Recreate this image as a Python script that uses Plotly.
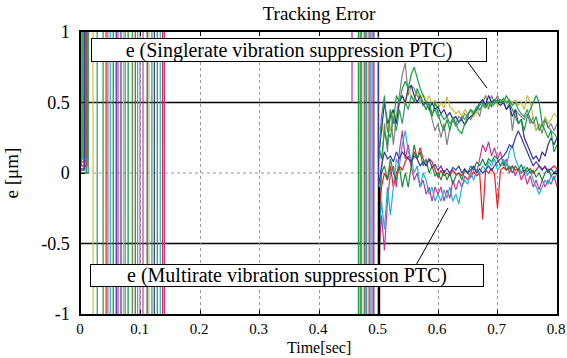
import numpy as np
import plotly.graph_objects as go

# ---------------- data ----------------
series_names = ["gray", "yellow", "navy", "green", "teal", "red", "magenta", "cyan", "dkgreen", "blue"]
series_colors = ["#808080", "#c8c040", "#2e2e9a", "#14a040", "#2f9a60",
                 "#ee1c24", "#cc3399", "#22b0dd", "#1a8a3a", "#3a3ab0"]

# value at t=0 and time the error leaves the scale upwards
start_v = {"gray": 0.05, "yellow": 0.0, "navy": 0.02, "green": 0.1, "teal": 0.0,
           "red": 0.05, "magenta": 0.08, "cyan": 0.1, "dkgreen": 0.0, "blue": 0.03}
depart_t = {"gray": 0.001, "yellow": 0.008, "navy": 0.005, "green": 0.003, "teal": 0.009,
            "red": 0.010, "magenta": 0.007, "cyan": 0.011, "dkgreen": 0.012, "blue": 0.006}

# start-up oscillation (0 - 0.14 s): times of full-scale sweeps
early_cross = {
    "gray":    [0.045, 0.099],
    "yellow":  [0.020, 0.071, 0.114],
    "navy":    [0.059, 0.123],
    "green":   [0.037, 0.086, 0.128],
    "teal":    [0.027, 0.074, 0.119],
    "red":     [0.042, 0.091, 0.137],
    "magenta": [0.062, 0.104, 0.140],
    "cyan":    [0.049, 0.095, 0.133],
    "dkgreen": [0.054, 0.079],
    "blue":    [0.067, 0.111],
}
early_lvl = {
    "gray":    [-5, 5],
    "yellow":  [-5, 5, -5],
    "navy":    [-5, 5],
    "green":   [-5, 5, -5],
    "teal":    [-5, 5, -5],
    "red":     [-5, 5, -5],
    "magenta": [-5, 5, -5],
    "cyan":    [-5, 5, -5],
    "dkgreen": [-5, 5],
    "blue":    [-5, 5],
}

# re-start oscillation (0.46 - 0.5 s)
mid_start = {"gray": -5, "yellow": 5, "navy": -5, "green": 5, "teal": -5,
             "red": 5, "magenta": 5, "cyan": -5, "dkgreen": 5, "blue": -5}
mid_cross = {"gray": [0.471], "yellow": [0.474], "navy": [0.477], "green": [0.466],
             "teal": [0.480], "red": [0.484], "magenta": [0.489], "cyan": [0.486],
             "dkgreen": [0.469], "blue": [0.492]}
mid_lvl = {"gray": [5], "yellow": [-5], "navy": [5], "green": [-5], "teal": [5],
           "red": [-5], "magenta": [-5], "cyan": [5], "dkgreen": [-5], "blue": [5]}
# short magenta excursion into the plot at ~0.455 s
mag_blip_t = [0.4545, 0.455, 0.4555, 0.456]
mag_blip_v = [5, 0.5, 0.5, 5]

# settled response, sampled every 0.005 s from 0.500 to 0.800 s
settle_t = np.round(np.arange(0.500, 0.8001, 0.005), 3)
settle_v = {
    "gray": [-0.9, 0.0, 0.35, 0.15, 0.45, 0.2, 0.4, 0.55, 0.7, 0.78, 0.55, 0.62, 0.6, 0.55, 0.5, 0.5,
             0.45, 0.5, 0.38, 0.3, 0.35, 0.25, 0.35, 0.2, 0.32, 0.38, 0.35, 0.4, 0.38, 0.42, 0.4,
             0.38, 0.42, 0.45, 0.4, 0.5, 0.55, 0.45, 0.55, 0.5, 0.55, 0.5, 0.52, 0.45, 0.5, 0.3,
             0.45, 0.42, 0.4, 0.38, 0.42, 0.35, 0.4, 0.3, 0.35, 0.28, 0.38, 0.32, 0.35, 0.3, 0.35],
    "yellow": [0.3, 0.35, 0.25, 0.4, 0.3, 0.45, 0.38, 0.5, 0.55, 0.48, 0.6, 0.55, 0.52, 0.58, 0.5, 0.56,
               0.5, 0.55, 0.48, 0.52, 0.45, 0.5, 0.46, 0.54, 0.47, 0.45, 0.42, 0.44, 0.4, 0.45, 0.42,
               0.44, 0.4, 0.43, 0.45, 0.47, 0.5, 0.48, 0.5, 0.52, 0.48, 0.5, 0.52, 0.49, 0.51, 0.5,
               0.52, 0.48, 0.5, 0.45, 0.55, 0.5, 0.4, 0.3, 0.35, 0.32, 0.4, 0.35, 0.38, 0.42, 0.4],
    "navy": [0.1, 0.3, 0.5, 0.35, 0.4, 0.45, 0.35, 0.5, 0.55, 0.5, 0.6, 0.62, 0.55, 0.5, 0.55, 0.48,
             0.5, 0.45, 0.5, 0.45, 0.47, 0.42, 0.45, 0.4, 0.43, 0.38, 0.4, 0.36, 0.38, 0.34, 0.38,
             0.4, 0.42, 0.45, 0.5, 0.52, 0.48, 0.55, 0.5, 0.52, 0.5, 0.48, 0.5, 0.45, 0.48, 0.4,
             0.45, 0.35, 0.38, 0.25, 0.2, 0.15, 0.1, 0.12, 0.08, 0.15, 0.12, 0.2, 0.25, 0.2, 0.25],
    "green": [0.2, 0.1, 0.3, 0.2, 0.45, 0.35, 0.55, 0.5, 0.6, 0.65, 0.6, 0.7, 0.75, 0.68, 0.6, 0.55,
              0.5, 0.45, 0.4, 0.5, 0.42, 0.35, 0.3, 0.38, 0.3, 0.4, 0.35, 0.3, 0.28, 0.35, 0.4,
              0.45, 0.42, 0.45, 0.48, 0.5, 0.47, 0.5, 0.48, 0.52, 0.5, 0.52, 0.5, 0.55, 0.5, 0.45,
              0.4, 0.35, 0.38, 0.3, 0.4, 0.45, 0.5, 0.55, 0.5, 0.35, 0.3, 0.25, 0.3, 0.15, 0.2],
    "teal": [0.05, 0.4, 0.55, 0.3, 0.25, 0.4, 0.3, 0.45, 0.35, 0.5, 0.45, 0.55, 0.5, 0.6, 0.55, 0.5,
             0.45, 0.5, 0.42, 0.45, 0.4, 0.42, 0.38, 0.4, 0.35, 0.38, 0.33, 0.36, 0.4, 0.38, 0.42,
             0.45, 0.43, 0.47, 0.45, 0.48, 0.46, 0.5, 0.47, 0.49, 0.52, 0.5, 0.53, 0.5, 0.52, 0.48,
             0.5, 0.45, 0.42, 0.4, 0.45, 0.38, 0.35, 0.4, 0.3, 0.35, 0.38, 0.33, 0.3, 0.28, 0.25],
    "red": [-0.3, -0.1, 0.0, -0.05, 0.05, -0.1, 0.0, 0.05, 0.02, 0.08, 0.12, 0.05, 0.15, 0.1, 0.18, 0.1,
            0.05, 0.1, 0.08, 0.02, -0.03, 0.02, -0.02, 0.0, -0.02, 0.02, -0.01, 0.0, -0.02, 0.02, 0.0,
            -0.03, 0.01, -0.02, 0.0, -0.33, 0.02, 0.0, 0.03, -0.01, -0.25, 0.02, 0.04, 0.02, 0.03, 0.05,
            0.02, 0.03, 0.0, 0.02, 0.01, 0.03, 0.0, 0.02, 0.05, 0.03, 0.04, 0.02, 0.03, 0.05, 0.03],
    "magenta": [-0.6, -0.3, -0.55, -0.2, 0.0, 0.05, -0.1, 0.15, 0.3, 0.1, 0.2, 0.05, -0.05, 0.0, -0.1, -0.05,
                -0.15, -0.1, -0.2, -0.1, -0.15, -0.1, -0.2, -0.12, -0.18, -0.05, -0.12, -0.05, -0.1, -0.02, -0.05,
                0.0, 0.05, 0.0, 0.1, 0.2, 0.15, 0.22, 0.12, 0.18, 0.1, 0.15, 0.05, 0.1, 0.0, 0.05,
                -0.02, 0.03, -0.05, 0.0, -0.08, -0.02, -0.1, -0.05, -0.12, -0.05, -0.1, -0.05, -0.08, -0.02, -0.1],
    "cyan": [-0.5, -0.2, -0.4, -0.1, -0.3, -0.1, 0.1, 0.05, 0.2, 0.3, 0.15, 0.1, 0.0, 0.05, -0.1, 0.0,
             -0.05, -0.15, -0.1, -0.2, -0.15, -0.2, -0.12, -0.18, -0.1, -0.2, -0.15, -0.22, -0.1, -0.05, -0.08,
             0.0, -0.05, 0.02, 0.0, 0.05, 0.02, 0.08, 0.05, 0.1, 0.02, 0.05, 0.1, 0.05, 0.15, 0.2,
             0.1, 0.05, 0.0, 0.05, -0.02, 0.02, -0.05, -0.1, -0.15, -0.1, -0.05, -0.08, -0.02, -0.05, 0.0],
    "dkgreen": [-0.2, 0.0, 0.05, -0.05, 0.1, 0.0, -0.05, 0.05, -0.1, 0.0, -0.1, 0.05, 0.2, 0.1, 0.15, 0.05,
                0.1, 0.0, 0.05, -0.02, 0.0, -0.05, 0.02, -0.05, 0.0, -0.08, -0.02, 0.0, -0.05, 0.02, 0.0,
                0.05, 0.02, 0.08, 0.05, 0.1, 0.05, 0.1, 0.08, 0.12, 0.1, 0.05, 0.08, 0.02, 0.05, 0.0,
                0.05, 0.02, 0.06, 0.0, 0.04, 0.0, 0.02, -0.03, 0.0, -0.05, 0.0, 0.03, -0.02, 0.0, 0.02],
    "blue": [-0.1, 0.05, 0.15, 0.1, 0.12, 0.08, 0.15, 0.1, 0.15, 0.12, 0.1, 0.08, 0.12, 0.1, 0.05, 0.08,
             0.05, 0.1, 0.04, 0.06, 0.02, 0.05, 0.0, 0.03, 0.0, 0.04, 0.02, 0.05, 0.0, 0.03, 0.0,
             0.02, 0.05, 0.0, 0.03, 0.0, 0.02, 0.05, 0.02, 0.05, 0.08, 0.1, 0.12, 0.15, 0.2, 0.18,
             0.25, 0.3, 0.25, 0.2, 0.15, 0.1, 0.05, 0.08, 0.05, 0.02, 0.05, 0.0, 0.03, 0.0, 0.02],
}

# thick black segment at the restart
black_t = [0.5008, 0.501]
black_v = [-5, -0.1]

x_ticks = [0, 0.1, 0.2, 0.3, 0.4, 0.5, 0.6, 0.7, 0.8]
x_ticklabels = ["0", "0.1", "0.2", "0.3", "0.4", "0.5", "0.6", "0.7", "0.8"]
y_ticks = [-1, -0.5, 0, 0.5, 1]
y_ticklabels = ["-1", "-0.5", "0", "0.5", "1"]

ann_top = "e (Singlerate vibration suppression PTC)"
ann_bot = "e (Multirate vibration suppression PTC)"
x_title = "Time[sec]"

SWEEP = 0.0004  # width of a full-scale sweep


def sweeps(times, levels, start_level):
    xs, ys = [], []
    prev = start_level
    for t, lv in zip(times, levels):
        xs += [t, t + SWEEP]
        ys += [prev, lv]
        prev = lv
    return xs, ys, prev


# ---------------- figure ----------------
FONT = "Liberation Serif, DejaVu Serif, serif"
fig = go.Figure()

fig.add_shape(type="line", xref="paper", x0=0, x1=1, yref="y", y0=0, y1=0,
              line=dict(color="#999999", width=1, dash="dot"), layer="below")
for yv in (0.5, -0.5):
    fig.add_shape(type="line", xref="paper", x0=0, x1=1, yref="y", y0=yv, y1=yv,
                  line=dict(color="black", width=1.5), layer="below")

for name, col in zip(series_names, series_colors):
    ex, ey, last_e = sweeps([depart_t[name]] + early_cross[name], [5] + early_lvl[name], start_v[name])
    mx, my, last = sweeps(mid_cross[name], mid_lvl[name], mid_start[name])
    xs = [0.0] + ex + [0.145, None]
    ys = [start_v[name]] + ey + [last_e, None]
    if name == "magenta":
        xs += mag_blip_t + [None]
        ys += mag_blip_v + [None]
    xs += [0.462] + mx + [0.4995] + list(settle_t)
    ys += [mid_start[name]] + my + [last] + list(settle_v[name])
    fig.add_trace(go.Scatter(x=xs, y=ys, mode="lines", line=dict(color=col, width=1.2),
                             connectgaps=False, showlegend=False, hoverinfo="skip"))

fig.add_trace(go.Scatter(x=black_t, y=black_v, mode="lines", line=dict(color="black", width=2.2),
                         showlegend=False, hoverinfo="skip"))

fig.add_annotation(text=ann_top, xref="paper", yref="paper", x=0.437, y=0.936,
                   showarrow=False, font=dict(family=FONT, size=20, color="black"),
                   bgcolor="white", bordercolor="black", borderwidth=1, borderpad=0,
                   width=394, height=22, xanchor="center", yanchor="middle")
fig.add_annotation(text=ann_bot, xref="paper", yref="paper", x=0.433, y=0.135,
                   showarrow=False, font=dict(family=FONT, size=20, color="black"),
                   bgcolor="white", bordercolor="black", borderwidth=1, borderpad=0,
                   width=392, height=21, xanchor="center", yanchor="middle")
fig.add_shape(type="line", xref="paper", yref="paper", x0=0.811, y0=0.897, x1=0.853, y1=0.801,
              line=dict(color="black", width=1))
fig.add_shape(type="line", xref="paper", yref="paper", x0=0.704, y0=0.174, x1=0.771, y1=0.376,
              line=dict(color="black", width=1))

# x-axis title placed under the tick labels, resting on the bottom edge
fig.add_annotation(text=x_title, xref="paper", yref="paper", x=0.5, y=-0.155,
                   showarrow=False, font=dict(family=FONT, size=16, color="black"),
                   xanchor="center", yanchor="bottom")

fig.update_layout(
    width=567, height=358,
    margin=dict(l=81, r=10, t=32, b=44),
    paper_bgcolor="white", plot_bgcolor="white",
    font=dict(family=FONT, size=18, color="black"),
    title=dict(text="Tracking Error", x=0.5, xref="paper", xanchor="center",
               y=0.962, yref="container", yanchor="middle",
               font=dict(family=FONT, size=19, color="black")),
    xaxis=dict(range=[0, 0.8], tickvals=x_ticks, ticktext=x_ticklabels,
               showline=True, mirror="ticks", linecolor="black", linewidth=1.5,
               ticks="inside", ticklen=4, tickcolor="black",
               showgrid=True, gridcolor="#999999", griddash="dot", gridwidth=1,
               zeroline=False, automargin=False, ticklabelstandoff=0,
               ticklabeloverflow="allow", ticklabelshift=-1,
               tickfont=dict(family=FONT, size=15)),
    yaxis=dict(range=[-1, 1], tickvals=y_ticks, ticktext=y_ticklabels,
               showline=True, mirror="ticks", linecolor="black", linewidth=1.5,
               ticks="inside", ticklen=4, tickcolor="black",
               showgrid=False, zeroline=False, automargin=False, ticklabelstandoff=6,
               title=dict(text="e [μm]", standoff=18, font=dict(family=FONT, size=19)),
               tickfont=dict(family=FONT, size=18)),
)

fig.write_html("out.html")
